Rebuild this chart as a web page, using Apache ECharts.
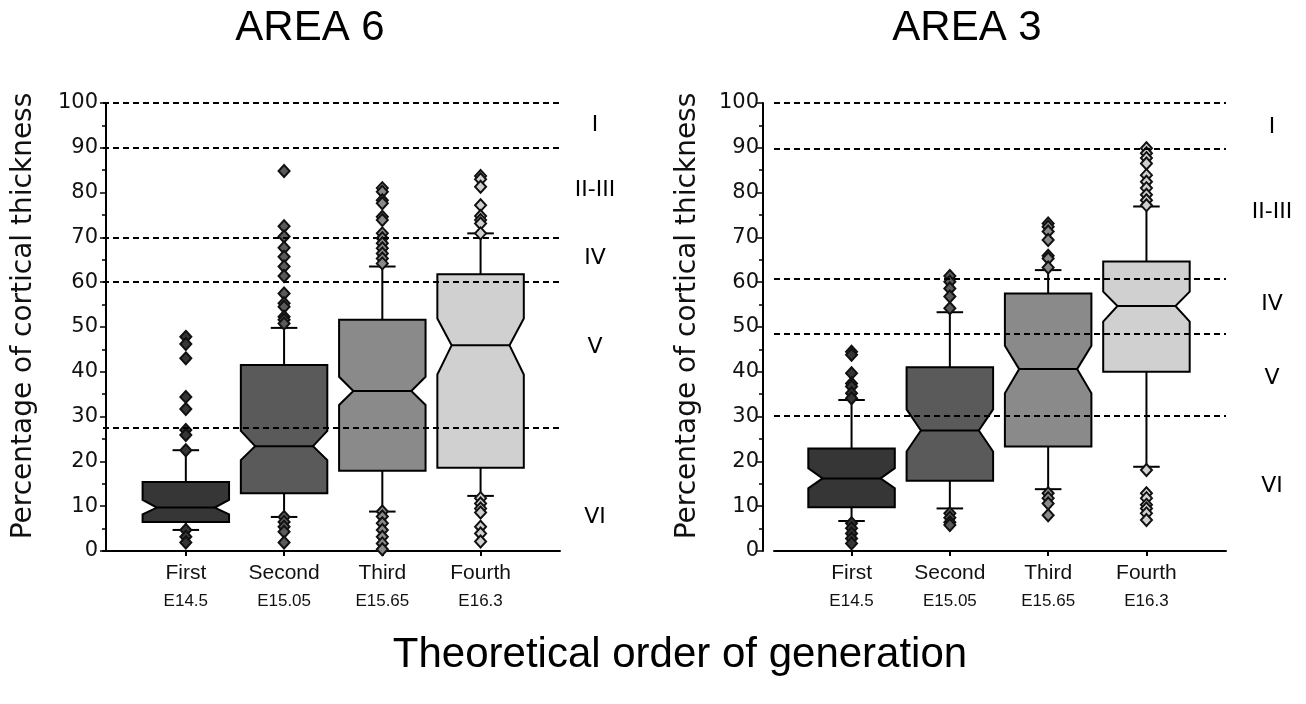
<!DOCTYPE html>
<html><head><meta charset="utf-8">
<script src="https://cdn.jsdelivr.net/npm/echarts@6/dist/echarts.min.js"></script>
<style>html,body{margin:0;padding:0;background:#fff}#c{width:1306px;height:704px}</style>
</head><body><div id="c"></div><script>
// ---------- data ----------
const categories = ['First', 'Second', 'Third', 'Fourth'];
const stageLabels = ['E14.5', 'E15.05', 'E15.65', 'E16.3'];
const panelTitles = ['AREA 6', 'AREA 3'];
const yAxisTitle = 'Percentage of cortical thickness';
const xAxisTitle = 'Theoretical order of generation';
const layerNames = ['I', 'II-III', 'IV', 'V', 'VI'];

// AREA 6
const a6WhiskerLow  = [4.7, 7.6, 8.8, 12.3];
const a6Q1          = [6.5, 12.9, 17.9, 18.6];
const a6NotchLow    = [8.2, 20.3, 32.6, 39.4];
const a6Median      = [9.7, 23.4, 35.7, 45.9];
const a6NotchHigh   = [11.4, 26.8, 38.9, 51.9];
const a6Q3          = [15.4, 41.5, 51.6, 61.8];
const a6WhiskerHigh = [22.5, 49.8, 63.5, 70.9];
const a6Outliers = [
  [47.8, 46.2, 43.0, 34.4, 31.7, 27.0, 25.9, 22.5, 4.7, 3.2, 1.9],
  [84.8, 72.5, 70.2, 67.7, 65.7, 63.5, 61.4, 57.5, 55.3, 54.5, 52.3, 51.6, 50.8, 7.6, 6.5, 5.4, 4.3, 1.9],
  [81.0, 80.2, 78.3, 77.6, 74.6, 73.9, 70.9, 69.8, 68.7, 67.6, 66.4, 65.3, 64.2, 8.8, 7.7, 6.2, 4.7, 3.2, 1.7, 0.4],
  [83.7, 83.0, 81.3, 77.2, 74.8, 73.9, 73.1, 70.9, 11.8, 10.6, 9.5, 8.6, 5.4, 3.9, 2.1]
];
const a6LayerBounds = [100, 90, 70, 60, 27.5];
const a6LayerLabelY = [95, 80.5, 65.3, 45.5, 7.6];

// AREA 3
const a3WhiskerLow  = [6.7, 9.5, 13.8, 18.8];
const a3Q1          = [9.75, 15.7, 23.3, 40.0];
const a3NotchLow    = [14.0, 22.2, 35.2, 51.2];
const a3Median      = [16.2, 26.9, 40.6, 54.7];
const a3NotchHigh   = [18.5, 31.6, 45.8, 57.9];
const a3Q3          = [22.9, 41.0, 57.5, 64.6];
const a3WhiskerHigh = [33.7, 53.3, 62.7, 76.9];
const a3Outliers = [
  [44.5, 43.8, 39.7, 37.4, 36.7, 35.2, 34.1, 6.2, 5.1, 3.9, 2.8, 1.7],
  [61.4, 60.1, 58.6, 56.8, 54.2, 8.4, 7.4, 6.4, 5.8],
  [73.1, 72.4, 71.3, 69.4, 65.9, 65.3, 63.3, 12.9, 11.8, 10.6, 8.0],
  [89.9, 88.8, 87.7, 86.5, 83.9, 82.4, 81.0, 79.5, 78.3, 77.2, 18.1, 12.9, 11.8, 10.3, 9.5, 8.4, 6.9]
];
const a3LayerBounds = [100, 89.8, 60.8, 48.6, 30.1];
const a3LayerLabelY = [94.5, 75.5, 55, 38.6, 14.4];

// ---------- styling / layout ----------
const boxColors = ['#363636', '#5a5a5a', '#8a8a8a', '#d0d0d0'];
const INK = '#000';
const TOP = 103, HEIGHT = 448;
const panels = [
  { gy: 106, gxL: 103, gxR: 560, gbL: 136.7, gbW: 393, labelMargin: 8, labelOff: 35, titleX: 310, nameX: 24,
    wl: a6WhiskerLow, q1: a6Q1, nl: a6NotchLow, md: a6Median, nh: a6NotchHigh, q3: a6Q3, wh: a6WhiskerHigh,
    out: a6Outliers, bounds: a6LayerBounds, labY: a6LayerLabelY },
  { gy: 763, gxL: 774, gxR: 1226, gbL: 802.4, gbW: 393.2, labelMargin: 4, labelOff: 46, titleX: 967, nameX: 688,
    wl: a3WhiskerLow, q1: a3Q1, nl: a3NotchLow, md: a3Median, nh: a3NotchHigh, q3: a3Q3, wh: a3WhiskerHigh,
    out: a3Outliers, bounds: a3LayerBounds, labY: a3LayerLabelY }
];

function renderBox(params, api) {
  const i = api.value(0);
  const band = api.size([1, 0])[0];
  const hw = band * 0.44, inset = hw * 0.33, cap = band * 0.135;
  const cx = api.coord([i, 0])[0];
  const y = v => api.coord([i, v])[1];
  const wl = y(api.value(1)), q1 = y(api.value(2)), nl = y(api.value(3)), md = y(api.value(4)),
        nh = y(api.value(5)), q3 = y(api.value(6)), wh = y(api.value(7));
  const L = cx - hw, R = cx + hw;
  const ls = { stroke: INK, lineWidth: 2, fill: null };
  return { type: 'group', children: [
    { type: 'line', shape: { x1: cx, y1: q3, x2: cx, y2: wh }, style: ls },
    { type: 'line', shape: { x1: cx - cap, y1: wh, x2: cx + cap, y2: wh }, style: ls },
    { type: 'line', shape: { x1: cx, y1: q1, x2: cx, y2: wl }, style: ls },
    { type: 'line', shape: { x1: cx - cap, y1: wl, x2: cx + cap, y2: wl }, style: ls },
    { type: 'polygon', shape: { points: [[L, q3], [R, q3], [R, nh], [R - inset, md], [R, nl], [R, q1],
        [L, q1], [L, nl], [L + inset, md], [L, nh]] },
      style: { fill: boxColors[i], stroke: INK, lineWidth: 2 } },
    { type: 'line', shape: { x1: L + inset, y1: md, x2: R - inset, y2: md }, style: ls }
  ]};
}

const grid = [], xAxis = [], yAxis = [], series = [], graphic = [];
panels.forEach((p, k) => {
  const base = k * 3;
  grid.push({ left: p.gy, top: TOP, width: p.gxR - p.gy, height: HEIGHT, containLabel: false, outerBoundsMode: 'none' });
  grid.push({ left: p.gxL, top: TOP, width: p.gxR - p.gxL, height: HEIGHT, containLabel: false, outerBoundsMode: 'none' });
  grid.push({ left: p.gbL, top: TOP, width: p.gbW, height: HEIGHT, containLabel: false, outerBoundsMode: 'none' });

  xAxis.push({ gridIndex: base, type: 'value', min: 0, max: 1, show: false });
  yAxis.push({ gridIndex: base, type: 'value', min: 0, max: 100, interval: 10,
    axisLine: { show: true, lineStyle: { color: INK, width: 2 } },
    axisTick: { show: true, length: 6, lineStyle: { color: INK, width: 1.5 } },
    minorTick: { show: true, splitNumber: 2, length: 4, lineStyle: { color: INK, width: 1.5 } },
    splitLine: { show: false },
    axisLabel: { margin: p.labelMargin, fontSize: 21, color: '#111', fontFamily: 'DejaVu Sans' } });

  xAxis.push({ gridIndex: base + 1, type: 'value', min: 0, max: 1,
    axisLine: { show: true, lineStyle: { color: INK, width: 2 } },
    axisTick: { show: false }, axisLabel: { show: false }, splitLine: { show: false } });
  yAxis.push({ gridIndex: base + 1, type: 'value', min: 0, max: 100, show: false });

  xAxis.push({ gridIndex: base + 2, type: 'category', data: categories, boundaryGap: true,
    axisLine: { show: false },
    axisTick: { show: true, alignWithLabel: true, length: 5, lineStyle: { color: INK, width: 2 } },
    axisLabel: { margin: 8, interval: 0,
      formatter: (v, idx) => '{a|' + v + '}\n{b|' + stageLabels[idx] + '}',
      rich: { a: { fontSize: 21, lineHeight: 28, color: '#111', fontFamily: 'Liberation Sans' },
              b: { fontSize: 17, lineHeight: 28, color: '#111', fontFamily: 'Liberation Sans' } } } });
  yAxis.push({ gridIndex: base + 2, type: 'value', min: 0, max: 100, show: false });

  // boxes
  series.push({ type: 'custom', xAxisIndex: base + 2, yAxisIndex: base + 2, z: 2, silent: true,
    renderItem: renderBox, encode: { x: 0, y: [1, 2, 3, 4, 5, 6, 7] },
    data: categories.map((c, i) => [i, p.wl[i], p.q1[i], p.nl[i], p.md[i], p.nh[i], p.q3[i], p.wh[i]]) });
  // outliers
  const outData = [];
  p.out.forEach((arr, i) => arr.forEach(v => outData.push([i, v])));
  series.push({ type: 'scatter', xAxisIndex: base + 2, yAxisIndex: base + 2, z: 4, silent: true,
    symbol: 'diamond', symbolSize: [11, 12],
    itemStyle: { color: prm => boxColors[prm.data[0]], borderColor: '#111', borderWidth: 2, opacity: 1 },
    data: outData });
  // layer boundaries (dashed)
  series.push({ type: 'line', xAxisIndex: base + 1, yAxisIndex: base + 1, z: 6, silent: true, data: [],
    markLine: { silent: true, symbol: 'none', label: { show: false },
      lineStyle: { color: INK, width: 2, type: [6, 4] },
      data: p.bounds.map(v => ({ yAxis: v })) } });
  // layer names
  series.push({ type: 'scatter', xAxisIndex: base + 1, yAxisIndex: base + 1, z: 6, silent: true,
    symbolSize: 0, clip: false, itemStyle: { opacity: 1 },
    data: p.labY.map(v => [1, v]),
    label: { show: true, position: 'inside', offset: [p.labelOff, 0], opacity: 1,
      formatter: prm => layerNames[prm.dataIndex],
      fontSize: 22, color: '#000', fontFamily: 'DejaVu Sans' } });

  graphic.push({ type: 'text', x: p.titleX, y: 28,
    style: { text: panelTitles[k], fontSize: 42, fontFamily: 'Liberation Sans', fill: '#000',
      textAlign: 'center', textVerticalAlign: 'middle' } });
  graphic.push({ type: 'text', x: p.nameX, y: 316, rotation: Math.PI / 2,
    style: { text: yAxisTitle, fontSize: 28, fontFamily: 'DejaVu Sans', fill: '#111',
      textAlign: 'center', textVerticalAlign: 'middle' } });
});
graphic.push({ type: 'text', x: 680, y: 655,
  style: { text: xAxisTitle, fontSize: 42, fontFamily: 'Liberation Sans', fill: '#000',
    textAlign: 'center', textVerticalAlign: 'middle' } });

const chart = echarts.init(document.getElementById('c'), null, { renderer: 'canvas' });
chart.setOption({ animation: false, backgroundColor: '#fff', grid, xAxis, yAxis, series, graphic });
</script></body></html>
